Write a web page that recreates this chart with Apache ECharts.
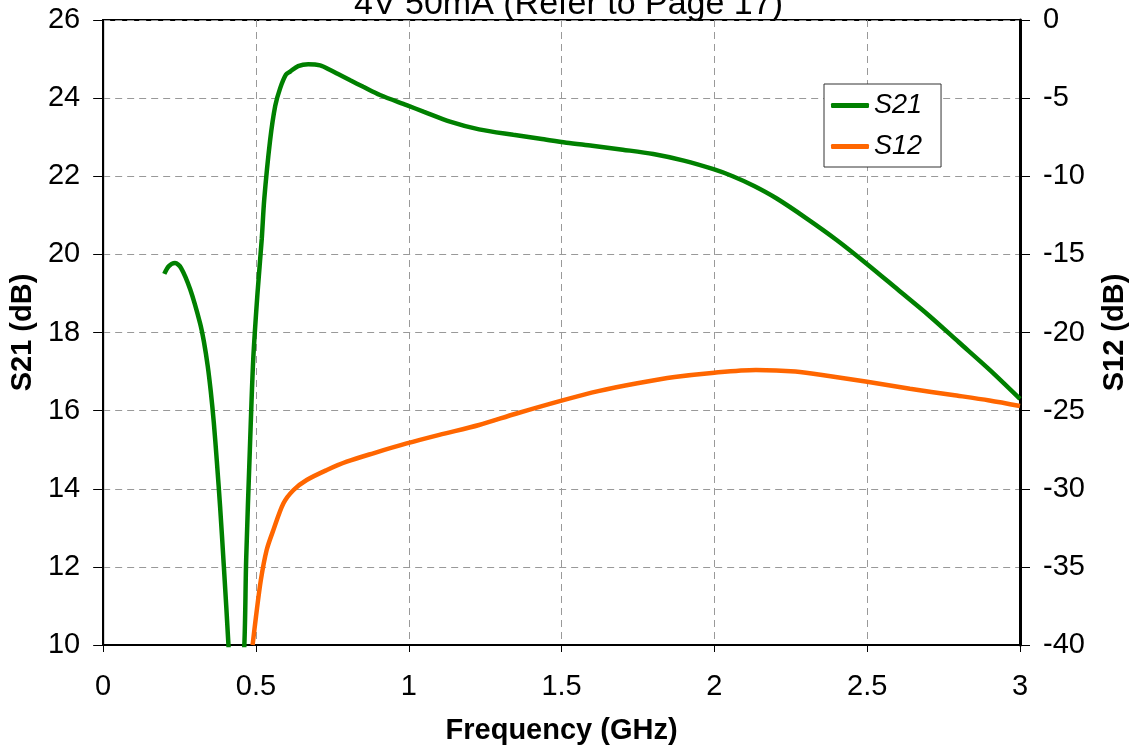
<!DOCTYPE html>
<html>
<head>
<meta charset="utf-8">
<script src="https://cdn.jsdelivr.net/npm/echarts@6/dist/echarts.min.js"></script>
<style>html,body{margin:0;padding:0;background:#fff;}#c{width:1137px;height:751px;}</style>
</head>
<body>
<div id="c"></div>
<script>
const titleText = '4V 50mA (Refer to Page 17)';
const xName = 'Frequency (GHz)';
const s21Name = 'S21';
const s12Name = 'S12';
// S21 (dB), left axis: [frequency GHz, dB]
const s21Data = [
  [0.2,19.5],[0.215,19.7],[0.235,19.78],[0.255,19.65],[0.285,19.1],[0.317,18.24],
  [0.33,17.75],[0.342,17.15],[0.352,16.5],[0.362,15.7],[0.372,14.7],[0.383,13.5],
  [0.395,12.0],[0.41,10.0],[0.436,6.0],
  [0.462,10.0],[0.468,12.2],[0.48,15.0],[0.491,17.3],[0.505,19.0],[0.519,20.4],
  [0.527,21.4],[0.546,22.9],[0.563,23.8],[0.579,24.25],[0.598,24.6],[0.612,24.68],
  [0.638,24.82],[0.671,24.87],[0.71,24.84],[0.743,24.72],[0.775,24.59],[0.81,24.45],
  [0.851,24.29],[0.906,24.08],[0.993,23.82],[1.05,23.65],[1.135,23.40],[1.23,23.2],
  [1.342,23.06],[1.43,22.96],[1.516,22.86],[1.6,22.78],[1.7,22.68],[1.8,22.57],
  [1.9,22.4],[1.997,22.18],[2.06,22.0],[2.13,21.75],[2.204,21.43],[2.3,20.93],
  [2.4,20.37],[2.5,19.75],[2.6,19.1],[2.7,18.45],[2.8,17.75],[2.9,17.05],[3.0,16.3]
];
// S12 (dB), right axis
const s12Data = [
  [0.489,-40],[0.5,-38.2],[0.516,-35.84],[0.535,-33.92],[0.557,-32.64],[0.59,-30.93],
  [0.623,-30.08],[0.666,-29.44],[0.732,-28.8],[0.797,-28.27],[0.884,-27.73],[0.993,-27.1],
  [1.1,-26.55],[1.23,-25.92],[1.35,-25.2],[1.5,-24.36],[1.62,-23.75],[1.748,-23.25],
  [1.87,-22.85],[2.0,-22.57],[2.136,-22.4],[2.265,-22.5],[2.38,-22.8],[2.5,-23.15],
  [2.64,-23.6],[2.78,-24.0],[2.9,-24.35],[3.0,-24.7]
];
const xRange = {min:0, max:3, interval:0.5};
const leftRange = {min:10, max:26, interval:2};
const rightRange = {min:-40, max:0, interval:5};

const FONT = 'Liberation Sans, Arial, sans-serif';
const gridLine = {show:true, lineStyle:{color:'#999', type:[7,5], width:1}};
const chart = echarts.init(document.getElementById('c'), null, {renderer:'canvas'});
chart.setOption({
  animation:false,
  backgroundColor:'#fff',
  title:{text:titleText, left:'center', top:-17,
    textStyle:{fontFamily:FONT, fontSize:34, fontWeight:'normal', color:'#000'}},
  grid:{left:103, right:117, top:20, bottom:106, show:true, borderColor:'#000', borderWidth:2, containLabel:false},
  legend:{orient:'vertical', left:824, top:84, padding:[8,19,7,7], itemGap:14,
    itemWidth:38, itemHeight:5, itemTextGap:8, icon:'roundRect',
    backgroundColor:'#fff', borderColor:'#333', borderWidth:1, borderRadius:0,
    textStyle:{fontFamily:FONT, fontSize:27, fontStyle:'italic', color:'#000'},
    data:[s21Name, s12Name]},
  xAxis:{type:'value', min:xRange.min, max:xRange.max, interval:xRange.interval,
    name:xName, nameLocation:'middle', nameGap:71,
    nameTextStyle:{fontFamily:FONT, fontSize:29, fontWeight:'bold', color:'#000'},
    axisLine:{show:true, onZero:false, lineStyle:{color:'#000', width:2}},
    axisTick:{show:true, length:7, lineStyle:{color:'#000', width:1}},
    axisLabel:{fontFamily:FONT, fontSize:29, color:'#000', margin:27},
    splitLine:gridLine},
  yAxis:[
    {type:'value', position:'left', min:leftRange.min, max:leftRange.max, interval:leftRange.interval,
      name:'S21 (dB)', nameLocation:'middle', nameGap:62,
      nameTextStyle:{fontFamily:FONT, fontSize:29, fontWeight:'bold', color:'#000'},
      axisLine:{show:true, onZero:false, lineStyle:{color:'#000', width:2}},
      axisTick:{show:true, length:7, lineStyle:{color:'#000', width:1}},
      axisLabel:{fontFamily:FONT, fontSize:29, color:'#000', margin:23},
      splitLine:gridLine},
    {type:'value', position:'right', min:rightRange.min, max:rightRange.max, interval:rightRange.interval,
      name:'S12 (dB)', nameLocation:'middle', nameGap:80,
      nameTextStyle:{fontFamily:FONT, fontSize:29, fontWeight:'bold', color:'#000'},
      axisLine:{show:true, onZero:false, lineStyle:{color:'#000', width:3}},
      axisTick:{show:true, length:10, lineStyle:{color:'#000', width:1}},
      axisLabel:{fontFamily:FONT, fontSize:29, color:'#000', margin:23},
      splitLine:{show:false}},
    {type:'value', position:'right', offset:0, min:rightRange.min, max:rightRange.max, interval:rightRange.interval,
      axisLine:{show:false}, axisLabel:{show:false}, splitLine:{show:false},
      axisTick:{show:true, inside:true, length:10, lineStyle:{color:'#000', width:1}}}
  ],
  series:[
    {name:s21Name, type:'line', yAxisIndex:0, data:s21Data, showSymbol:false, symbol:'none',
      smooth:0.3, clip:true, lineStyle:{color:'#008000', width:4.5}, itemStyle:{color:'#008000'}},
    {name:s12Name, type:'line', yAxisIndex:1, data:s12Data, showSymbol:false, symbol:'none',
      smooth:0.3, clip:true, lineStyle:{color:'#FF6600', width:4.5}, itemStyle:{color:'#FF6600'}}
  ]
});
</script>
</body>
</html>
